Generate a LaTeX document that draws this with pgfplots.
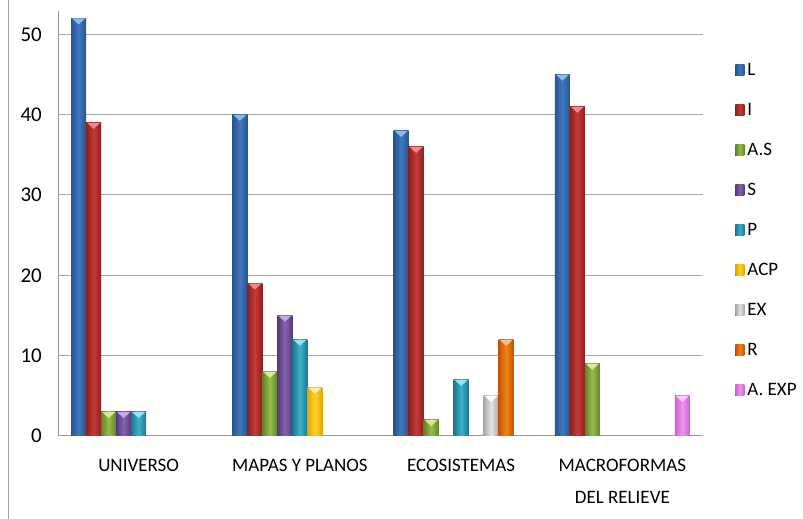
\documentclass[border=0pt]{standalone}
\usepackage{fontspec}
\setmainfont{Carlito}
\usepackage{pgfplots}
\pgfplotsset{compat=1.18}
\usetikzlibrary{shapes.geometric}

% edge / middle / cap colours of each series
\definecolor{Le}{HTML}{25558F}\definecolor{Lm}{HTML}{3F78C0}\definecolor{Lt}{HTML}{8CB8F0}
\definecolor{Ie}{HTML}{8E201E}\definecolor{Im}{HTML}{C43A36}\definecolor{It}{HTML}{F08A88}
\definecolor{ASe}{HTML}{64842A}\definecolor{ASm}{HTML}{96BC4C}\definecolor{ASt}{HTML}{D4EC90}
\definecolor{Se}{HTML}{553A7C}\definecolor{Sm}{HTML}{8462B0}\definecolor{St}{HTML}{C4A8EC}
\definecolor{Pe}{HTML}{1A7890}\definecolor{Pm}{HTML}{3EB0CC}\definecolor{Pt}{HTML}{90E4F4}
\definecolor{ACPe}{HTML}{E0A800}\definecolor{ACPm}{HTML}{FFD030}\definecolor{ACPt}{HTML}{FFEC90}
\definecolor{EXe}{HTML}{A8A8A8}\definecolor{EXm}{HTML}{E4E4E4}\definecolor{EXt}{HTML}{FFFFFF}
\definecolor{Re}{HTML}{C45400}\definecolor{Rm}{HTML}{F08418}\definecolor{Rt}{HTML}{FFC080}
\definecolor{AEe}{HTML}{D060D0}\definecolor{AEm}{HTML}{F095F0}\definecolor{AEt}{HTML}{FFC8FF}

\pgfplotsset{
  swatch/.style={legend image code/.code={\fill[##1] (0pt,-6.5pt) rectangle (9pt,4.5pt);}},
  % one shaded column: edge colour, middle colour, cap colour, offset in the group
  ser/.style n args={4}{
    ybar, bar width=15pt, bar shift=#4, swatch,
    draw=none, left color=#1, right color=#1, middle color=#2,
    nodes near coords={},
    every node near coord/.style={isosceles triangle, shape border rotate=270,
      isosceles triangle stretches, minimum width=13pt, minimum height=6pt,
      inner sep=0pt, draw=none, fill=#3, anchor=north, xshift=#4}},
  sL/.style={ser={Le}{Lm}{Lt}{-60pt}},
  sI/.style={ser={Ie}{Im}{It}{-45pt}},
  sAS/.style={ser={ASe}{ASm}{ASt}{-30pt}},
  sS/.style={ser={Se}{Sm}{St}{-15pt}},
  sP/.style={ser={Pe}{Pm}{Pt}{0pt}},
  sACP/.style={ser={ACPe}{ACPm}{ACPt}{15pt}},
  sEX/.style={ser={EXe}{EXm}{EXt}{30pt}},
  sR/.style={ser={Re}{Rm}{Rt}{45pt}},
  sAE/.style={ser={AEe}{AEm}{AEt}{60pt}},
}

\begin{document}
\begin{tikzpicture}
\useasboundingbox (0,0) rectangle (803pt,519pt);
\draw[gray!70, line width=1pt] (8pt,0) -- (8pt,519pt);
\begin{axis}[
  at={(58pt,83pt)}, anchor=south west,
  scale only axis, width=645pt, height=425pt,
  xmin=-0.5, xmax=3.5, ymin=0, ymax=52.9,
  axis x line*=bottom, axis y line*=left,
  axis line style={-, draw=gray!80, line width=1pt},
  ymajorgrids, grid style={gray!70, line width=1pt},
  major tick length=0pt,
  xtick={0,1,2,3},
  xticklabels={UNIVERSO, MAPAS Y PLANOS, ECOSISTEMAS, {MACROFORMAS\\DEL RELIEVE}},
  xticklabel style={font=\fontsize{19}{32}\selectfont, align=center, inner sep=0pt, yshift=-23pt},
  ytick={0,10,20,30,40,50},
  yticklabel style={font=\fontsize{21}{21}\selectfont, inner sep=0pt, xshift=-16pt},
  /pgf/number format/assume math mode=true,
  legend style={at={(1.05,0.877)}, anchor=north west, draw=none, fill=none,
    inner sep=0pt, row sep=27.5pt, column sep=3pt,
    font=\fontsize{19}{19}\selectfont,
    nodes={inner sep=0pt, text height=12pt, text depth=0pt}},
  legend cell align=left,
]
% L
\addplot[sL] coordinates {(0,52)};
\addplot[sL, forget plot] coordinates {(1,40)};
\addplot[sL, forget plot] coordinates {(2,38)};
\addplot[sL, forget plot] coordinates {(3,45)};
% I
\addplot[sI] coordinates {(0,39)};
\addplot[sI, forget plot] coordinates {(1,19)};
\addplot[sI, forget plot] coordinates {(2,36)};
\addplot[sI, forget plot] coordinates {(3,41)};
% A.S
\addplot[sAS] coordinates {(0,3)};
\addplot[sAS, forget plot] coordinates {(1,8)};
\addplot[sAS, forget plot] coordinates {(2,2)};
\addplot[sAS, forget plot] coordinates {(3,9)};
% S
\addplot[sS] coordinates {(0,3)};
\addplot[sS, forget plot] coordinates {(1,15)};
% P
\addplot[sP] coordinates {(0,3)};
\addplot[sP, forget plot] coordinates {(1,12)};
\addplot[sP, forget plot] coordinates {(2,7)};
% ACP
\addplot[sACP] coordinates {(1,6)};
% EX
\addplot[sEX] coordinates {(2,5)};
% R
\addplot[sR] coordinates {(2,12)};
% A. EXP
\addplot[sAE] coordinates {(3,5)};
\legend{L, I, A.S, S, P, ACP, EX, R, A. EXP}
\end{axis}
\end{tikzpicture}
\end{document}
